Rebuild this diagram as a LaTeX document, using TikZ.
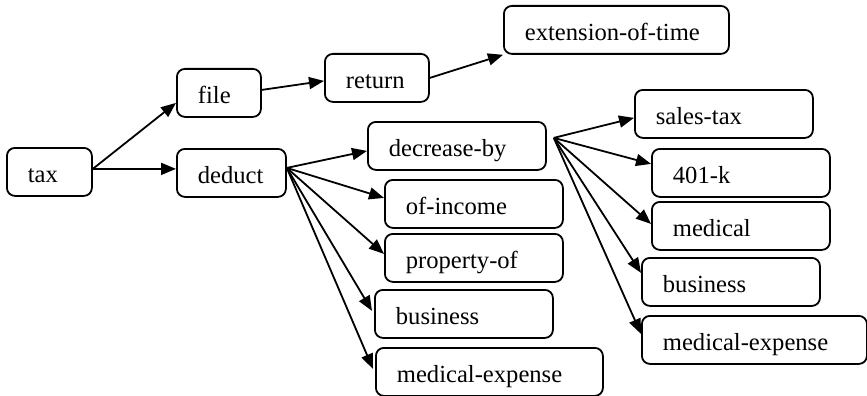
\documentclass[tikz,border=0pt]{standalone}
\usepackage{fontspec}
\setmainfont{Liberation Serif}
\usepackage{tikz}
\usetikzlibrary{positioning}
\usetikzlibrary{arrows.meta}

\tikzset{
  term/.style={draw, line width=1.8pt, rounded corners=8pt, rectangle, anchor=north west,
    inner xsep=21pt, inner ysep=0pt, minimum height=48pt, text width=#1, align=left,
    text height=22.5pt, text depth=1.5pt, font=\fontsize{24.6}{28}\selectfont},
  term/.default=136pt,
  link/.style={line width=1.8pt, -{Triangle[length=15pt, width=12pt]}}
}

\begin{document}
\begin{tikzpicture}[x=1pt, y=-1pt]

  % page frame
  \useasboundingbox (0, 0) rectangle (867, 396);

  % root and upper branch
  \node at (6, 147) (tax) [term=43pt] {tax};
  \node at (176, 68) (file) [term=42pt] {file};
  \node at (176, 148) (deduct) [term=67pt] {deduct};
  \node at (324, 53) (return) [term=62pt] {return};
  \node at (503, 5) (extension) [term=183pt] {extension-of-time};

  % children of deduct
  \node at (367, 121) (decrease) [term] {decrease-by};
  \node at (384, 179) (income) [term] {of-income};
  \node at (384, 233) (property) [term] {property-of};
  \node at (374, 289) (businessA) [term] {business};
  \node at (375, 347) (medexpA) [term=185pt] {medical-expense};

  % children of decrease-by
  \node at (634, 89) (salestax) [term] {sales-tax};
  \node at (651, 148) (fourk) [term] {401-k};
  \node at (651, 201) (medical) [term] {medical};
  \node at (641, 257) (businessB) [term] {business};
  \node at (641, 315) (medexpB) [term=183pt] {medical-expense};

  % common coordinates
  \coordinate (D) at ([yshift=5pt] deduct.east);
  \coordinate (E) at ([xshift=7pt, yshift=8pt] decrease.east);

  % upper links
  \draw [link] ([yshift=3pt] tax.east) -- ([yshift=-10pt] file.west);
  \draw [link] ([yshift=3pt] tax.east) -- ([yshift=4pt] deduct.west);
  \draw [link] ([yshift=3pt] file.east) -- ([yshift=-3pt] return.west);
  \draw [link] (return.east) -- (extension.south west);

  % deduct fan
  \draw [link] (D) -- ([yshift=-5pt] decrease.west);
  \draw [link] (D) -- ([yshift=6pt] income.west);
  \draw [link] (D) -- ([yshift=4pt] property.west);
  \draw [link] (D) -- ([xshift=-2pt, yshift=3pt] businessA.west);
  \draw [link] (D) -- ([xshift=-2pt, yshift=3pt] medexpA.west);

  % decrease-by fan
  \draw [link] (E) -- ([yshift=-4pt] salestax.west);
  \draw [link] (E) -- ([yshift=9pt] fourk.west);
  \draw [link] (E) -- ([yshift=2pt] medical.west);
  \draw [link] (E) -- ([yshift=9pt] businessB.west);
  \draw [link] (E) -- ([yshift=6pt] medexpB.west);

\end{tikzpicture}
\end{document}
